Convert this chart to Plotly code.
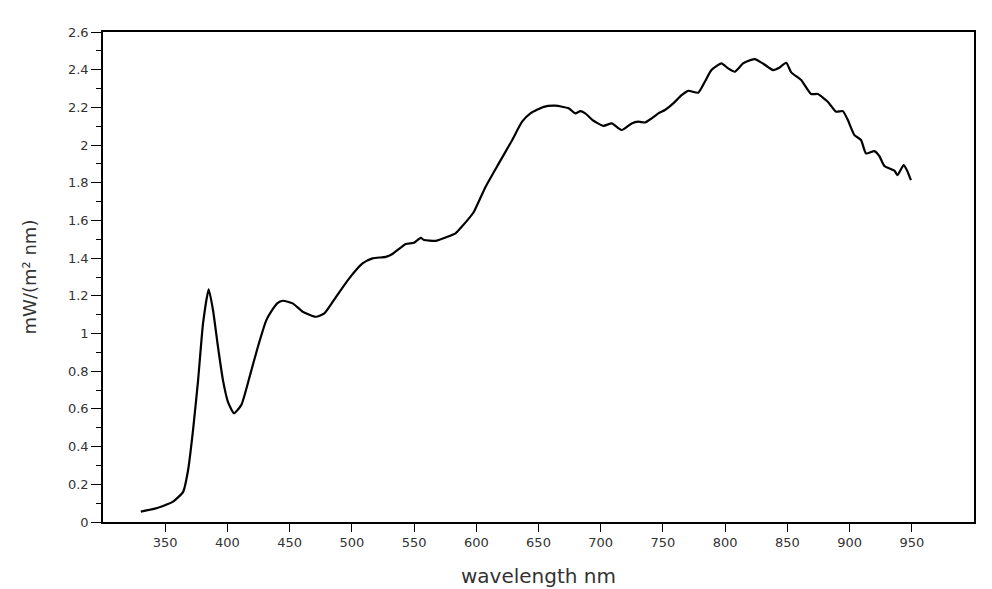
import plotly.graph_objects as go

wavelength = [330.4, 340, 348.3, 356.3, 364.4, 368.4, 372.4, 376.4, 380.4, 384.9, 388.4, 392.4,
              396.4, 400.4, 405.2, 411.1, 417.8, 424.5, 431.2, 435.5, 440, 444.5, 452.5, 460.5,
              471.2, 477.9, 487.3, 497.9, 508.6, 516.6, 527.3, 532.6, 543.3, 550, 555.4, 558,
              567.4, 575.4, 583.4, 587.4, 594.1, 598, 607.5, 618.1, 628.8, 636.8, 643.5, 654.2,
              663.5, 674.2, 679.6, 683.6, 687.6, 694.2, 702.2, 708.9, 716.9, 724.9, 730.3, 735.7,
              741, 746.3, 751.7, 758.3, 765, 770.4, 778.4, 783.7, 789, 797, 802.4, 807.8, 814.4,
              818.4, 823.8, 830.4, 838.5, 843.8, 849.1, 853.1, 861.1, 869.1, 874.5, 882.5, 889.2,
              894.6, 898.6, 903.9, 909.2, 913.2, 919.9, 923.9, 928, 936, 938.6, 943.4, 946.1, 949.3]
irradiance = [0.055, 0.068, 0.085, 0.108, 0.16, 0.276, 0.49, 0.75, 1.054, 1.235, 1.125, 0.93,
              0.753, 0.638, 0.577, 0.62, 0.77, 0.93, 1.07, 1.12, 1.16, 1.174, 1.16, 1.116,
              1.089, 1.107, 1.195, 1.293, 1.372, 1.399, 1.407, 1.422, 1.475, 1.482, 1.508, 1.496,
              1.492, 1.51, 1.532, 1.56, 1.611, 1.645, 1.779, 1.903, 2.026, 2.124, 2.168, 2.203,
              2.209, 2.195, 2.168, 2.18, 2.168, 2.129, 2.102, 2.115, 2.08, 2.115, 2.124, 2.12,
              2.142, 2.168, 2.186, 2.221, 2.265, 2.288, 2.278, 2.336, 2.398, 2.433, 2.407, 2.389, 2.433,
              2.446, 2.456, 2.433, 2.398, 2.412, 2.437, 2.386, 2.345, 2.271, 2.271, 2.23, 2.177,
              2.18, 2.133, 2.053, 2.027, 1.956, 1.968, 1.942, 1.889, 1.864, 1.841, 1.894, 1.867, 1.814]

x_ticks = [350, 400, 450, 500, 550, 600, 650, 700, 750, 800, 850, 900, 950]
y_ticks = [0, 0.2, 0.4, 0.6, 0.8, 1, 1.2, 1.4, 1.6, 1.8, 2, 2.2, 2.4, 2.6]
y_labels = ["0", "0.2", "0.4", "0.6", "0.8", "1", "1.2", "1.4", "1.6", "1.8", "2", "2.2", "2.4", "2.6"]

fig = go.Figure()
fig.add_trace(go.Scatter(x=wavelength, y=irradiance, mode="lines",
                         line=dict(color="black", width=2.2, shape="spline", smoothing=0.5),
                         showlegend=False, hoverinfo="skip"))

font_family = "DejaVu Sans, Verdana, sans-serif"
fig.update_layout(
    width=984, height=581,
    margin=dict(l=95, r=18, t=24, b=67),
    paper_bgcolor="white", plot_bgcolor="white",
    font=dict(family=font_family, color="#222222", size=13),
)
fig.update_xaxes(
    range=[300, 1000], tickvals=x_ticks, ticktext=[str(v) for v in x_ticks],
    showgrid=False, zeroline=False, showline=True, linecolor="black", linewidth=1.5, mirror=True,
    ticks="outside", ticklen=8, tickwidth=1, tickcolor="black", automargin=False,
    tickfont=dict(size=13, color="#333333"),
    title=dict(text="wavelength nm", font=dict(size=20, color="#333333"), standoff=20),
)
fig.update_yaxes(
    range=[0, 2.6], tickvals=y_ticks, ticktext=y_labels,
    showgrid=False, zeroline=False, showline=True, linecolor="black", linewidth=1.5, mirror=True,
    ticks="outside", ticklen=10, tickwidth=1, tickcolor="black", automargin=False,
    tickfont=dict(size=13, color="#333333"),
    minor=dict(dtick=0.1, tick0=0, ticks="outside", ticklen=5, tickwidth=1, tickcolor="black", showgrid=False),
    title=dict(text="mW/(m² nm)", font=dict(size=18, color="#333333"), standoff=27),
)

fig.write_html("out.html")
